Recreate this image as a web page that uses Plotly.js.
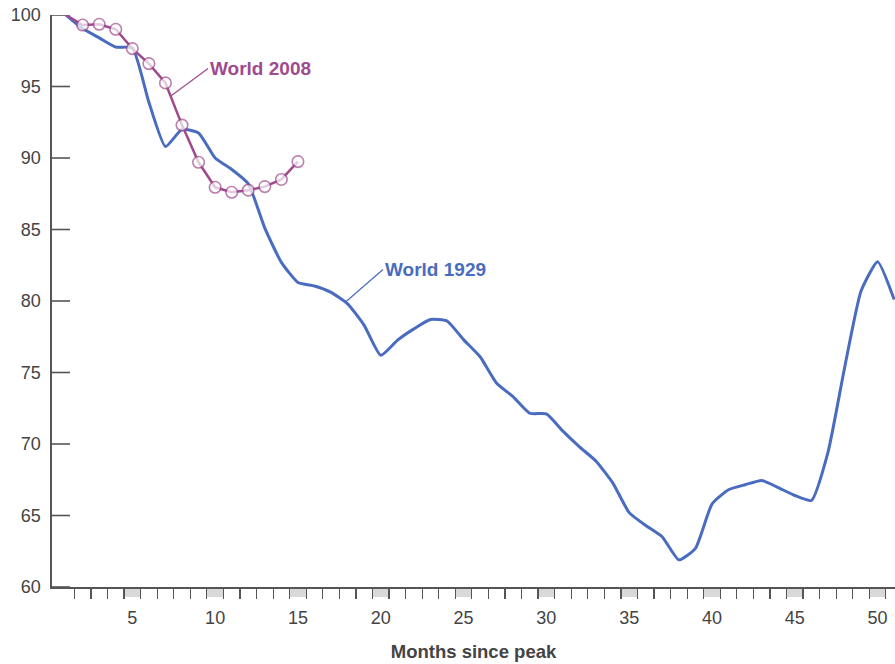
<!DOCTYPE html>
<html>
<head>
<meta charset="utf-8">
<script src="https://cdn.plot.ly/plotly-3.0.1.min.js"></script>
<style>html,body{margin:0;padding:0;background:#fff;}#chart{width:895px;height:664px;}</style>
</head>
<body>
<div id="chart"></div>
<script>
// Months since peak
const months1929 = [1,2,3,4,5,6,7,8,9,10,11,12,13,14,15,16,17,18,19,20,21,22,23,24,25,26,27,28,29,30,31,32,33,34,35,36,37,38,39,40,41,42,43,44,45,46,47,48,49,50,51];
const world1929 = [100,99.05,98.4,97.75,97.7,93.9,90.8,92.0,91.75,90.0,89.2,88.2,85.1,82.7,81.3,81.05,80.6,79.8,78.3,76.2,77.25,78.05,78.7,78.6,77.3,76.1,74.25,73.3,72.15,72.1,70.9,69.8,68.8,67.3,65.2,64.3,63.5,61.9,62.7,65.8,66.8,67.15,67.45,66.95,66.4,66.05,69.4,75.3,80.7,82.75,80.1];

const months2008 = [1,2,3,4,5,6,7,8,9,10,11,12,13,14,15];
const world2008 = [100,99.3,99.35,99.0,97.65,96.6,95.25,92.3,89.7,87.95,87.6,87.75,88.0,88.5,89.75];

const labelMonths = [5,10,15,20,25,30,35,40,45,50];
const cellEdges = [1.5,2.5,3.5,4.5,5.5,6.5,7.5,8.5,9.5,10.5,11.5,12.5,13.5,14.5,15.5,16.5,17.5,18.5,19.5,20.5,21.5,22.5,23.5,24.5,25.5,26.5,27.5,28.5,29.5,30.5,31.5,32.5,33.5,34.5,35.5,36.5,37.5,38.5,39.5,40.5,41.5,42.5,43.5,44.5,45.5,46.5,47.5,48.5,49.5,50.5];
const yTicks = [60,65,70,75,80,85,90,95,100];

const blue = '#4a6cc0';
const purple = '#a04a8e';
const axisCol = '#555555';
const textCol = '#444444';

const traces = [
  {
    x: months1929, y: world1929, type: 'scatter', mode: 'lines',
    line: {color: blue, width: 3, shape: 'spline', smoothing: 0.5},
    hoverinfo: 'skip', showlegend: false
  },
  {
    x: months2008, y: world2008, type: 'scatter', mode: 'lines+markers',
    line: {color: purple, width: 2.5},
    marker: {
      size: months2008.map((m, i) => i === 0 ? 0 : 11.5),
      color: '#ffffff',
      line: {color: purple, width: 1.6}
    },
    hoverinfo: 'skip', showlegend: false
  }
];

const PLOT_W = 895 - 52;
const shapes = labelMonths.map(m => ({
  type: 'rect', xref: 'x', yref: 'paper',
  x0: m - 0.5, x1: m + 0.5, y0: -10/572, y1: 0,
  fillcolor: '#d9d9d9', line: {width: 0}, layer: 'below'
})).concat(yTicks.map(v => ({
  type: 'line', xref: 'paper', yref: 'y',
  x0: 0, x1: 18/PLOT_W, y0: v, y1: v,
  line: {color: axisCol, width: 1.6}, layer: 'below'
})));

const layout = {
  width: 895, height: 664,
  margin: {l: 52, r: 0, t: 15, b: 77},
  paper_bgcolor: '#ffffff', plot_bgcolor: 'rgba(0,0,0,0)',
  font: {family: '"Liberation Sans", Arial, sans-serif', color: textCol, size: 18},
  showlegend: false,
  xaxis: {
    range: [0.15, 51.05],
    tickmode: 'array', tickvals: labelMonths, ticktext: labelMonths.map(String),
    ticks: '', showgrid: false, zeroline: false,
    showline: true, linecolor: axisCol, linewidth: 1.6,
    tickfont: {size: 18, color: textCol},
    ticklabelstandoff: 14,
    minor: {tickmode: 'array', tickvals: cellEdges, ticks: 'outside', ticklen: 10, tickwidth: 1.2, tickcolor: axisCol, showgrid: false},
    title: {text: '<b>Months since peak</b>', font: {size: 18.5, color: textCol}, standoff: 18},
    fixedrange: true
  },
  yaxis: {
    range: [60, 100],
    tickmode: 'array', tickvals: yTicks, ticktext: yTicks.map(String),
    ticks: '',
    showgrid: false, zeroline: false,
    showline: true, linecolor: axisCol, linewidth: 1.6,
    tickfont: {size: 18, color: textCol},
    ticklabelstandoff: 6,
    fixedrange: true
  },
  shapes: shapes,
  annotations: [
    {
      x: 7.28, y: 94.3, xref: 'x', yref: 'y',
      text: '<b>World 2008</b>', font: {size: 19, color: purple},
      showarrow: true, arrowhead: 0, arrowwidth: 1.2, arrowcolor: purple,
      ax: 38, ay: -28, xanchor: 'left', yanchor: 'middle', standoff: 0
    },
    {
      x: 17.84, y: 79.9, xref: 'x', yref: 'y',
      text: '<b>World 1929</b>', font: {size: 19, color: blue},
      showarrow: true, arrowhead: 0, arrowwidth: 1.2, arrowcolor: blue,
      ax: 38, ay: -33, xanchor: 'left', yanchor: 'middle', standoff: 0
    }
  ]
};

Plotly.newPlot('chart', traces, layout, {displayModeBar: false, staticPlot: true});
</script>
</body>
</html>
